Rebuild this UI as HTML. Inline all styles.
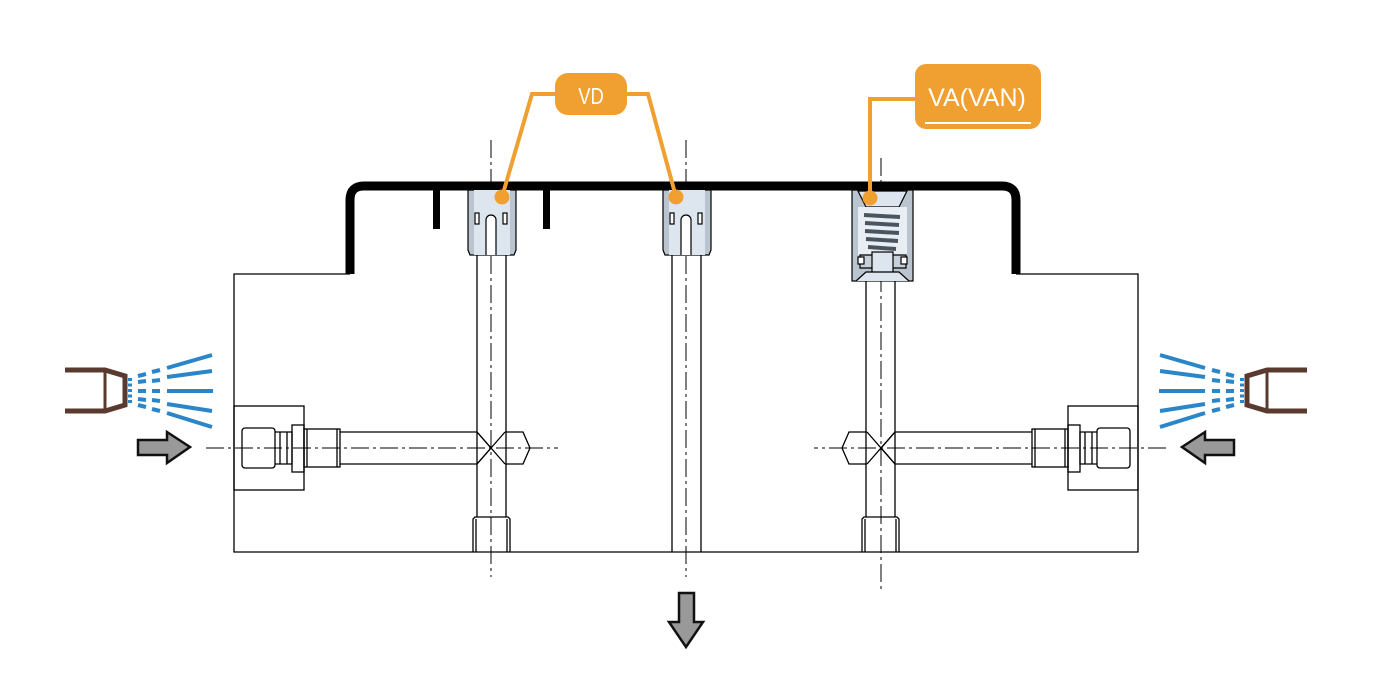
<!DOCTYPE html>
<html><head><style>html,body{margin:0;padding:0;background:#fff}svg{display:block}</style></head>
<body>
<svg width="1379" height="683" viewBox="0 0 1379 683" xmlns="http://www.w3.org/2000/svg" font-family="Liberation Sans, sans-serif">
<defs>
<g id="side" fill="none" stroke="#000" stroke-width="1.3">
  <path d="M65 370 H105 L125 376 V405 L105 411 H65" stroke="#5a3a2e" stroke-width="5"/>
  <path d="M105 370 V411" stroke="#5a3a2e" stroke-width="3"/>
  <g stroke="#2a86c8" stroke-width="4">
    <path d="M130 378 v27" stroke-dasharray="3 2.5"/>
    <path d="M138 376 l8 -2 M138 382 l8 -1 M138 391 h8 M138 399 l8 1 M138 405 l8 2"/>
    <path d="M152 372 l8 -2 M152 381 l8 -1 M152 391 h8 M152 400 l8 1 M152 409 l8 2"/>
    <path d="M167 368 l45 -13 M167 377 l45 -6 M167 391 h46 M167 404 l45 7 M167 413 l45 14"/>
  </g>
  <path d="M138 440 H167 V432 L190 447 L167 463 V455 H138 Z" fill="#999" stroke="#111" stroke-width="2.5"/>
  <rect x="234" y="406" width="70" height="84"/>
  <rect x="242" y="428" width="33" height="40" rx="3"/>
  <path d="M275 432 H292 V464 H275"/>
  <path d="M280 432 V464 M287 432 V464"/>
  <rect x="292" y="425" width="12" height="47"/>
  <rect x="304" y="429" width="36" height="38"/>
  <path d="M307 429 V467 M337 429 V467"/>
  <path d="M340 432 H477 L491 448 L477 464 H340"/>
  <path d="M477 432 L505 464 M505 432 L477 464"/>
  <path d="M505 432 H523 L530 448 L523 464 H505"/>
  <path d="M206 448 H558" stroke-width="1" stroke-dasharray="18 4 3 4"/>
</g>
</defs>

<g fill="none" stroke="#000" stroke-width="1.3">
  <path d="M350 274 H234 V552 H1138 V274 H1016"/>
  <path d="M477 255 V517 M506 255 V517"/>
  <path d="M672 255 V552 M701 255 V552"/>
  <path d="M866 281 V517 M895 281 V517"/>
  <path d="M473 552 V519 L475 517 H508 L510 519 V552 M476 552 V519 M507 552 V519"/>
  <path d="M862 552 V519 L864 517 H897 L899 519 V552 M865 552 V519 M896 552 V519"/>
  <g stroke-width="1" stroke-dasharray="18 4 3 4">
    <path d="M491 140 V577"/>
    <path d="M686 140 V577"/>
    <path d="M881 158 V592"/>
  </g>
</g>

<use href="#side"/>
<use href="#side" transform="translate(1372 0) scale(-1 1)"/>

<path d="M350 274 V200 Q350 186 364 186 H1002 Q1016 186 1016 200 V274" fill="none" stroke="#000" stroke-width="9"/>
<rect x="433" y="190" width="7" height="39" fill="#000"/>
<rect x="543" y="190" width="7" height="39" fill="#000"/>

<g stroke="#000" stroke-width="1.2">
  <g>
    <path d="M468 190 H516 V250 L514 255 H470 L468 250 Z" fill="#b9c4ce"/>
    <rect x="474" y="190" width="36" height="65" fill="#dde6ee" stroke="none"/>
    <rect x="475" y="213" width="4" height="11" fill="#fff"/>
    <rect x="503" y="213" width="4" height="11" fill="#fff"/>
    <path d="M486 255 V220 a5 5 0 0 1 10 0 V255" fill="#fff"/>
  </g>
  <g transform="translate(195 0)">
    <path d="M468 190 H516 V250 L514 255 H470 L468 250 Z" fill="#b9c4ce"/>
    <rect x="474" y="190" width="36" height="65" fill="#dde6ee" stroke="none"/>
    <rect x="475" y="213" width="4" height="11" fill="#fff"/>
    <rect x="503" y="213" width="4" height="11" fill="#fff"/>
    <path d="M486 255 V220 a5 5 0 0 1 10 0 V255" fill="#fff"/>
  </g>
  <rect x="852" y="190" width="61" height="91" fill="#b9c4ce"/>
  <path d="M858 191 L866 207 H899 L907 191 Z" fill="#dde6ee"/>
  <rect x="858" y="207" width="49" height="48" fill="#e8eef3" stroke="none"/>
  <g stroke="#4a5560" stroke-width="4" fill="none">
    <path d="M864 215 L900 217 M865 223 L899 225 M865 231 L899 233 M866 239 L898 241 M868 247 L896 249"/>
  </g>
  <path d="M860 255 H906 V268 H860 Z" fill="#c6d0d8"/>
  <rect x="872" y="252" width="21" height="22" fill="#dde6ee"/>
  <rect x="858" y="257" width="6" height="7" fill="#fff"/>
  <rect x="901" y="257" width="6" height="7" fill="#fff"/>
  <path d="M856 281 L866 272 H899 L909 281" fill="#dde6ee"/>
</g>

<path d="M679 593 H694 V622 H703 L686 647 L669 622 H679 Z" fill="#999" stroke="#111" stroke-width="2.5"/>

<g fill="none" stroke="#f0a030" stroke-width="4">
  <path d="M556 94 H532 L502 197"/>
  <path d="M626 94 H648 L676 197"/>
  <path d="M916 99 H870 V198"/>
</g>
<g fill="#f0a030">
  <circle cx="502" cy="197" r="7.5"/>
  <circle cx="676" cy="197" r="7.5"/>
  <circle cx="870" cy="198" r="7.5"/>
  <rect x="555" y="73" width="72" height="42" rx="13"/>
  <rect x="915" y="64" width="126" height="65" rx="11"/>
</g>
<path d="M925 123 H1031" stroke="#fff" stroke-width="2"/>
<text x="591" y="104" font-size="23" fill="#fff" text-anchor="middle" transform="translate(591 0) scale(0.8 1) translate(-591 0)">VD</text>
<text x="977" y="106" font-size="25" fill="#fff" text-anchor="middle">VA(VAN)</text>
</svg>
</body></html>
